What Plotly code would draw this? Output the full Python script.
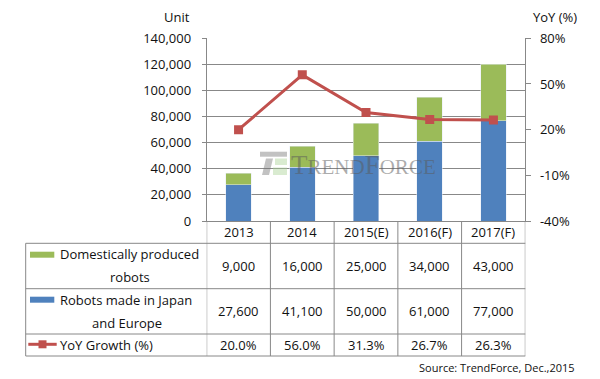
import plotly.graph_objects as go

categories = ["2013", "2014", "2015(E)", "2016(F)", "2017(F)"]
domestic = [9000, 16000, 25000, 34000, 43000]
japan_europe = [27600, 41100, 50000, 61000, 77000]
yoy = [20.0, 56.0, 31.3, 26.7, 26.3]
yoy_tickvals = [-40, -10, 20, 50, 80]
yoy_ticktext = ["-40%", "-10%", "20%", "50%", "80%"]

# the page body has an 8px margin, so the figure is sized to fill the rest
OFF = 8
W, H = 600 - OFF, 379 - OFF
FONT = "Open Sans"
GRID = "#888888"
TXT = "#111111"
GREEN = "#9BBB59"
BLUE = "#4F81BD"
RED = "#C0504D"

def px(x):
    return (x - OFF) / W

def py(y):
    return 1 - (y - OFF) / H

# layout geometry (window pixels)
PL, PR, PT, PB = 206.7, 525.3, 38.3, 221.0
TL = 25.7
ROWS = [243.3, 288.7, 334.0, 356.0]

fig = go.Figure()
fig.add_trace(go.Bar(x=categories, y=japan_europe, marker_color=BLUE,
                     name="Robots made in Japan and Europe", yaxis="y"))
fig.add_trace(go.Bar(x=categories, y=domestic, marker_color=GREEN,
                     name="Domestically produced robots", yaxis="y"))
fig.add_trace(go.Scatter(x=categories, y=yoy, yaxis="y2", mode="lines+markers",
                         line=dict(color=RED, width=3),
                         marker=dict(symbol="square", size=9, color=RED),
                         name="YoY Growth (%)"))

shapes = []
line_style = dict(color=GRID, width=1)
for r in ROWS:
    shapes.append(dict(type="line", xref="paper", yref="paper",
                       x0=px(TL), x1=px(PR), y0=py(r), y1=py(r), line=line_style))
shapes.append(dict(type="line", xref="paper", yref="paper",
                   x0=px(TL), x1=px(TL), y0=py(ROWS[0]), y1=py(ROWS[-1]), line=line_style))
for i in range(len(categories) + 1):
    shapes.append(dict(type="line", xref="x", yref="paper",
                       x0=i - 0.5, x1=i - 0.5, y0=py(PB), y1=py(ROWS[-1]), line=line_style))

# legend keys in table
shapes.append(dict(type="rect", xref="paper", yref="paper", x0=px(30), x1=px(54.3),
                   y0=py(251.7), y1=py(257.7), fillcolor=GREEN, line=dict(width=0)))
shapes.append(dict(type="rect", xref="paper", yref="paper", x0=px(30), x1=px(54.3),
                   y0=py(296.7), y1=py(302.7), fillcolor=BLUE, line=dict(width=0)))
shapes.append(dict(type="line", xref="paper", yref="paper", x0=px(28.3), x1=px(56.7),
                   y0=py(344.3), y1=py(344.3), line=dict(color=RED, width=3)))
shapes.append(dict(type="rect", xref="paper", yref="paper", x0=px(38.5), x1=px(46.5),
                   y0=py(340.3), y1=py(348.3), fillcolor=RED, line=dict(width=0)))

# watermark icon
wm_grey = "rgba(120,120,120,0.45)"
wm_green = "rgba(170,210,150,0.45)"
shapes.append(dict(type="rect", xref="paper", yref="paper", x0=px(260), x1=px(287),
                   y0=py(151.7), y1=py(156.7), fillcolor=wm_grey, line=dict(width=0),
                   layer="above"))
shapes.append(dict(type="path", xref="paper", yref="paper",
                   path=f"M {px(266)},{py(158.5)} L {px(273)},{py(158.5)} L {px(269)},{py(175)} L {px(262)},{py(175)} Z",
                   fillcolor=wm_grey, line=dict(width=0), layer="above"))
shapes.append(dict(type="rect", xref="paper", yref="paper", x0=px(275), x1=px(287),
                   y0=py(158.5), y1=py(165), fillcolor=wm_green, line=dict(width=0),
                   layer="above"))
shapes.append(dict(type="rect", xref="paper", yref="paper", x0=px(273), x1=px(287),
                   y0=py(167.5), y1=py(175), fillcolor=wm_green, line=dict(width=0),
                   layer="above"))

annotations = []
def ann(text, x, y, xref="paper", xanchor="center", size=13, **kw):
    annotations.append(dict(text=text, x=x, y=y, xref=xref, yref="paper",
                            xanchor=xanchor, yanchor="middle", showarrow=False,
                            font=dict(family=FONT, size=size, color=TXT), **kw))

# year labels and table values, placed on the category axis by index
for i, c in enumerate(categories):
    ann(c, i, py(231.5), xref="x")
for i, v in enumerate(domestic):
    ann(f"{v:,}", i, py(265.5), xref="x")
for i, v in enumerate(japan_europe):
    ann(f"{v:,}", i, py(310.5), xref="x")
for i, v in enumerate(yoy):
    ann(f"{v:.1f}%", i, py(344.5), xref="x")

# row labels
ann("Domestically produced", px(58), py(253.5), xanchor="left")
ann("robots", px(130), py(276.5))
ann("Robots made in Japan", px(58), py(299.5), xanchor="left")
ann("and Europe", px(127), py(322.5))
ann("YoY Growth (%)", px(58), py(344.5), xanchor="left")

# axis titles
ann("Unit", px(176.7), py(17.5))
ann("YoY (%)", px(555), py(17.5))
# source
ann("Source: TrendForce, Dec.,2015", px(577), py(367), xanchor="right", size=11)

# watermark text
annotations.append(dict(
    text='T<span style="font-size:21px">REND</span>F<span style="font-size:21px">ORCE</span>',
    x=px(289), y=py(165), xref="paper", yref="paper", xanchor="left", yanchor="middle",
    showarrow=False, font=dict(family="Liberation Serif", size=27, color="rgba(90,90,90,0.5)")))

fig.update_layout(
    width=W, height=H,
    margin=dict(l=0, r=0, t=0, b=0, autoexpand=False),
    paper_bgcolor="white", plot_bgcolor="white",
    barmode="stack", bargap=0.6,
    showlegend=False,
    font=dict(family=FONT, size=13, color=TXT),
    xaxis=dict(domain=[px(PL), px(PR)], type="category", range=[-0.5, 4.5],
               showticklabels=False, showline=True, linecolor=GRID, linewidth=1,
               ticks="", showgrid=False, fixedrange=True, automargin=False),
    yaxis=dict(domain=[py(PB), py(PT)], range=[0, 140000], dtick=20000,
               tickformat=",", showgrid=True, gridcolor=GRID, gridwidth=1,
               showline=True, linecolor=GRID, linewidth=1, ticks="outside",
               ticklen=4, tickcolor=GRID, zeroline=False, automargin=False,
               ticklabelstandoff=8, tickfont=dict(family=FONT, size=13, color=TXT)),
    yaxis2=dict(overlaying="y", side="right", range=[-40, 80],
                tickvals=yoy_tickvals, ticktext=yoy_ticktext,
                showgrid=False, showline=True, linecolor=GRID,
                linewidth=1, ticks="outside", ticklen=5, tickcolor=GRID,
                zeroline=False, ticklabelstandoff=6, automargin=False,
                tickfont=dict(family=FONT, size=13, color=TXT)),
    shapes=shapes,
    annotations=annotations,
)

fig.write_html("out.html")
